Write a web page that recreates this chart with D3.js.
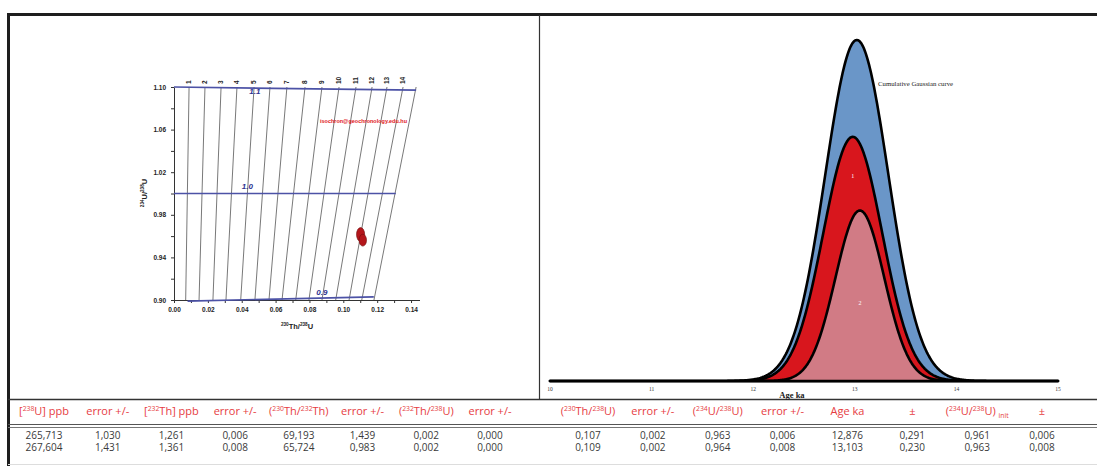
<!DOCTYPE html>
<html>
<head>
<meta charset="utf-8">
<script src="https://cdn.jsdelivr.net/npm/d3@7"></script>
<style>
  body { margin: 0; background: #fff; }
  svg { display: block; }
</style>
</head>
<body>
<div id="chart"></div>
<script>
// ---- left: isochron diagram (230Th/238U vs 234U/238U) ----
const isoAges    = [1, 2, 3, 4, 5, 6, 7, 8, 9, 10, 11, 12, 13, 14, 15];
const isoTopX    = [0.0089, 0.0183, 0.0278, 0.0372, 0.0473, 0.0567, 0.0667, 0.0774, 0.0874, 0.0975, 0.1075, 0.1170, 0.1258, 0.1353, 0.1430];
const isoBottomX = [0.0069, 0.0148, 0.0230, 0.0307, 0.0394, 0.0478, 0.0561, 0.0638, 0.0719, 0.0797, 0.0874, 0.0955, 0.1034, 0.1109, 0.1181];
const isoLabels  = ["1", "2", "3", "4", "5", "6", "7", "8", "9", "10", "11", "12", "13", "14", ""];

const initRatios = ["1.1", "1.0", "0.9"];
const initX0 = [0.000, 0.000, 0.008];
const initX1 = [0.143, 0.131, 0.118];
const initY0 = [1.100, 1.000, 0.899];
const initY1 = [1.097, 1.000, 0.903];
const initLabelX = [0.0445, 0.040, 0.084];
const initLabelY = [1.0935, 1.004, 0.905];

const sampleX    = [0.1102, 0.1115];
const sampleY    = [0.9615, 0.9562];
const sampleErrX = [0.0024, 0.0022];
const sampleErrY = [0.0065, 0.0056];

// ---- right: probability density plot ----
const ageTicks    = [10, 11, 12, 13, 14, 15];
const curveNames  = ["Cumulative Gaussian curve", "1", "2"];
const curveMean   = [13.02, 12.98, 13.05];
const curveSigma  = [0.31, 0.29, 0.24];
const curvePeak   = [1.00, 0.716, 0.50];
const curveLabelY = [null, 0.595, 0.223];

// ---- table ----
const colHeaders = ["[^238U] ppb", "error +/-", "[^232Th] ppb", "error +/-", "(^230Th/^232Th)", "error +/-",
                    "(^232Th/^238U)", "error +/-", "(^230Th/^238U)", "error +/-", "(^234U/^238U)", "error +/-",
                    "Age ka", "±", "(^234U/^238U) _init", "±"];
const row1 = [265.713, 1.030, 1.261, 0.006, 69.193, 1.439, 0.002, 0.000, 0.107, 0.002, 0.963, 0.006, 12.876, 0.291, 0.961, 0.006];
const row2 = [267.604, 1.431, 1.361, 0.008, 65.724, 0.983, 0.002, 0.000, 0.109, 0.002, 0.964, 0.008, 13.103, 0.230, 0.963, 0.008];

const W = 1097, H = 466;
const svg = d3.select("#chart").append("svg")
    .attr("width", W).attr("height", H)
    .style("background", "#fff");

// superscript/subscript helper: ^123 = sup, _abc = sub
function rich(textSel, str, size) {
  const parts = str.split(/(\^\d+|_\w+)/).filter(s => s);
  let cur = 0;
  parts.forEach(p => {
    let off = 0, fs = size, t = p;
    if (p[0] === "^") { off = -0.38 * size; fs = size * 0.62; t = p.slice(1); }
    else if (p[0] === "_") { off = 0.28 * size; fs = size * 0.62; t = p.slice(1); }
    textSel.append("tspan").attr("dy", off - cur).attr("font-size", fs).text(t);
    cur = off;
  });
}

// frame
const frame = svg.append("g").attr("stroke", "#1e1e1e").attr("fill", "none");
frame.append("line").attr("x1", 7).attr("x2", W).attr("y1", 14.5).attr("y2", 14.5).attr("stroke-width", 3);
frame.append("line").attr("x1", 8.5).attr("x2", 8.5).attr("y1", 13).attr("y2", H).attr("stroke-width", 3);
frame.append("line").attr("x1", 539.5).attr("x2", 539.5).attr("y1", 15).attr("y2", 399).attr("stroke-width", 1.2).attr("stroke", "#333");
frame.append("line").attr("x1", 8).attr("x2", W).attr("y1", 399.5).attr("y2", 399.5).attr("stroke-width", 1.6).attr("stroke", "#333");
frame.append("line").attr("x1", 8).attr("x2", W).attr("y1", 424.5).attr("y2", 424.5).attr("stroke-width", 1).attr("stroke", "#555");
frame.append("line").attr("x1", 8).attr("x2", W).attr("y1", 427.5).attr("y2", 427.5).attr("stroke-width", 1).attr("stroke", "#777");
frame.append("line").attr("x1", 8).attr("x2", W).attr("y1", 464.5).attr("y2", 464.5).attr("stroke-width", 1).attr("stroke", "#ddd");

// ===== left panel =====
const x = d3.scaleLinear().domain([0, 0.145]).range([174, 419.5]);
const y = d3.scaleLinear().domain([0.90, 1.10]).range([300, 87]);
const left = svg.append("g");

const xAxis = d3.axisBottom(x)
    .tickValues(d3.range(0, 0.1451, 0.01))
    .tickSize(3).tickSizeOuter(0)
    .tickFormat(d => Math.round(d * 100) % 2 === 0 ? d3.format(".2f")(d) : "");
left.append("g").attr("transform", "translate(0,300)").call(xAxis)
    .call(g => g.selectAll("text").attr("font-size", 6.5).attr("font-weight", "bold")
        .attr("font-family", "Liberation Sans, Arial, sans-serif").attr("fill", "#222").attr("dy", "0.9em"))
    .call(g => g.selectAll("line,path").attr("stroke", "#333"));

const yAxis = d3.axisLeft(y)
    .tickValues(d3.range(0.90, 1.1001, 0.02))
    .tickSize(3).tickSizeOuter(0)
    .tickFormat(d => Math.round(d * 100) % 4 === 2 ? d3.format(".2f")(d) : "");
left.append("g").attr("transform", "translate(174,0)").call(yAxis)
    .call(g => g.selectAll("text").attr("font-size", 6.5).attr("font-weight", "bold")
        .attr("font-family", "Liberation Sans, Arial, sans-serif").attr("fill", "#222").attr("dx", "-0.3em"))
    .call(g => g.selectAll("line,path").attr("stroke", "#333"));

// isochrons
left.selectAll(".iso").data(isoAges).join("line")
    .attr("x1", (d, i) => x(isoTopX[i])).attr("y1", y(1.10))
    .attr("x2", (d, i) => x(isoBottomX[i])).attr("y2", y(0.90))
    .attr("stroke", "#555").attr("stroke-width", 0.8);

left.selectAll(".isoLab").data(isoLabels).join("text")
    .attr("transform", (d, i) => `translate(${x(isoTopX[i])},${y(1.10) - 3}) rotate(-90)`)
    .attr("dy", "0.35em")
    .attr("font-size", 6.5).attr("font-weight", "bold")
    .attr("font-family", "Liberation Sans, Arial, sans-serif").attr("fill", "#222")
    .text(d => d);

// initial ratio lines
left.selectAll(".init").data(initRatios).join("line")
    .attr("x1", (d, i) => x(initX0[i])).attr("y1", (d, i) => y(initY0[i]))
    .attr("x2", (d, i) => x(initX1[i])).attr("y2", (d, i) => y(initY1[i]))
    .attr("stroke", "#4c52a6").attr("stroke-width", 1.7);

left.selectAll(".initLab").data(initRatios).join("text")
    .attr("x", (d, i) => x(initLabelX[i])).attr("y", (d, i) => y(initLabelY[i]))
    .attr("font-size", 8).attr("font-weight", "bold").attr("font-style", "italic")
    .attr("font-family", "Liberation Sans, Arial, sans-serif").attr("fill", "#2c3190")
    .text(d => d);

// sample error ellipses
left.selectAll(".ell").data(sampleX).join("ellipse")
    .attr("cx", d => x(d)).attr("cy", (d, i) => y(sampleY[i]))
    .attr("rx", (d, i) => x(sampleErrX[i]) - x(0))
    .attr("ry", (d, i) => y(0.90) - y(0.90 + sampleErrY[i]))
    .attr("fill", "#b4161b").attr("stroke", "#6e0b0b").attr("stroke-width", 0.6);

left.append("text").attr("x", 320).attr("y", 123)
    .attr("font-size", 6).attr("font-weight", "bold").attr("fill", "#e0141a")
    .attr("font-family", "Liberation Sans, Arial, sans-serif")
    .attr("textLength", 87).attr("lengthAdjust", "spacingAndGlyphs")
    .text("isochron@geochronology.edu.hu");

// axis titles
const yt = left.append("text").attr("transform", "translate(147,193) rotate(-90)")
    .attr("text-anchor", "middle").attr("font-size", 7).attr("font-weight", "bold")
    .attr("font-family", "Liberation Sans, Arial, sans-serif").attr("fill", "#222");
rich(yt, "^234U/^238U", 7.5);
const xt = left.append("text").attr("x", 297).attr("y", 329)
    .attr("text-anchor", "middle").attr("font-size", 7).attr("font-weight", "bold")
    .attr("font-family", "Liberation Sans, Arial, sans-serif").attr("fill", "#222");
rich(xt, "^230Th/^238U", 7.5);

// ===== right panel =====
const ax = d3.scaleLinear().domain([10, 15]).range([550, 1058]);
const ay = d3.scaleLinear().domain([0, 1]).range([381, 40]);
const right = svg.append("g");
const fills = ["#6a96c8", "#d8161d", "#d17b85"];
const grid = d3.range(10, 15.0001, 0.01);

const area = (m, s, p) => d3.area()
    .x(d => ax(d)).y0(ay(0))
    .y1(d => ay(p * Math.exp(-0.5 * ((d - m) / s) ** 2)))
    .curve(d3.curveLinear)(grid);

right.selectAll(".curve").data(curveNames).join("path")
    .attr("d", (d, i) => area(curveMean[i], curveSigma[i], curvePeak[i]))
    .attr("fill", (d, i) => fills[i])
    .attr("stroke", "#000").attr("stroke-width", 2.6).attr("stroke-linejoin", "round");

right.selectAll(".clab").data(curveNames.slice(1)).join("text")
    .attr("x", (d, i) => ax(curveMean[i + 1])).attr("y", (d, i) => ay(curveLabelY[i + 1]))
    .attr("text-anchor", "middle").attr("font-size", 6)
    .attr("font-family", "Liberation Serif, serif").attr("fill", "#fff")
    .text(d => d);

right.append("text").attr("x", 878).attr("y", 86)
    .attr("font-size", 6.8).attr("font-family", "Liberation Serif, serif").attr("fill", "#222")
    .text(curveNames[0]);

right.selectAll(".atick").data(ageTicks).join("text")
    .attr("x", d => ax(d)).attr("y", 391)
    .attr("text-anchor", "middle").attr("font-size", 5.5)
    .attr("font-family", "Liberation Serif, serif").attr("fill", "#333")
    .text(d => d);

right.append("text").attr("x", 792).attr("y", 398)
    .attr("text-anchor", "middle").attr("font-size", 8.5).attr("font-weight", "bold")
    .attr("font-family", "Liberation Serif, serif").attr("fill", "#222")
    .text("Age ka");

// ===== table =====
const colL = d3.scalePoint().domain(d3.range(8)).range([44, 490]);
const colR = d3.scalePoint().domain(d3.range(8, 16)).range([588, 1042]);
const colX = i => i < 8 ? colL(i) : colR(i);
const fmt = d3.formatLocale({ decimal: ",", thousands: ".", grouping: [3], currency: ["", ""] }).format(".3f");

colHeaders.forEach((h, i) => {
  const t = svg.append("text").attr("x", colX(i)).attr("y", 415)
      .attr("text-anchor", "middle").attr("font-size", 11)
      .attr("font-family", "Open Sans, sans-serif").attr("fill", "#e63c42");
  rich(t, h, 11);
});

[row1, row2].forEach((row, r) => {
  svg.append("g").selectAll("text").data(row).join("text")
      .attr("x", (d, i) => colX(i)).attr("y", 439 + r * 12)
      .attr("text-anchor", "middle").attr("font-size", 10)
      .attr("font-family", "Open Sans, sans-serif").attr("fill", "#3a3a3a")
      .text(d => fmt(d));
});
</script>
</body>
</html>
